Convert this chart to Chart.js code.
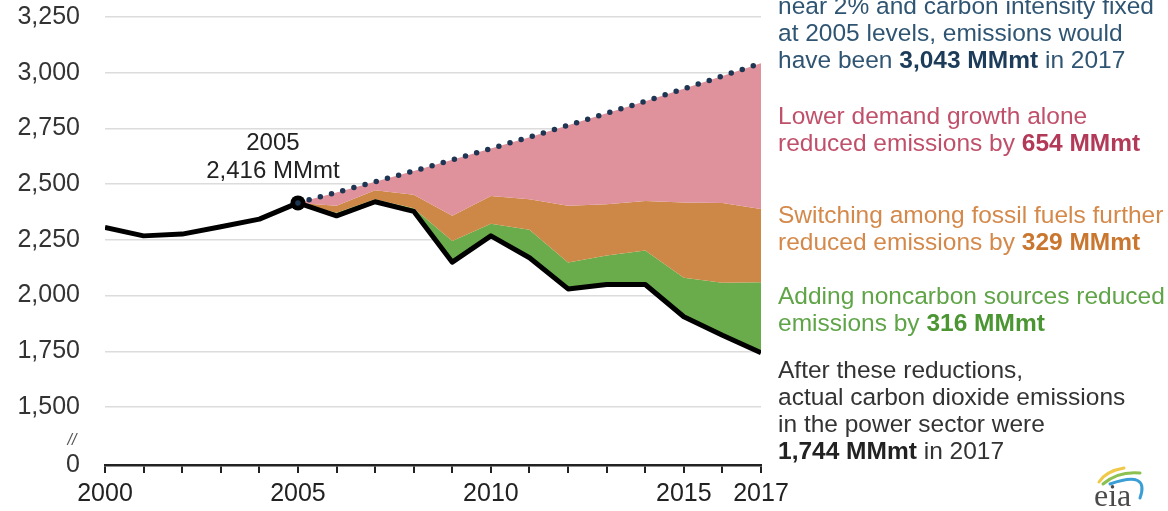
<!DOCTYPE html>
<html>
<head>
<meta charset="utf-8">
<script src="https://cdn.jsdelivr.net/npm/chart.js@4.4.0/dist/chart.umd.min.js"></script>
<style>
  html, body { margin: 0; padding: 0; background: #fff; }
  #wrap { position: relative; width: 1168px; height: 511px; overflow: hidden; font-family: "Liberation Sans", Arial, sans-serif; }
  #chart { position: absolute; left: 0; top: 0; }
  .note { position: absolute; left: 778px; font-size: 24.5px; line-height: 27px; white-space: nowrap; }
</style>
</head>
<body>
<div id="wrap">
  <canvas id="chart" width="1168" height="511"></canvas>
  <div class="note" style="top:-8.5px;color:#2f5573">near 2% and carbon intensity fixed<br>at 2005 levels, emissions would<br>have been <b style="color:#1d3c5a">3,043 MMmt</b> in 2017</div>
  <div class="note" style="top:101.5px;color:#c0506a">Lower demand growth alone<br>reduced emissions by <b style="color:#b23a58">654 MMmt</b></div>
  <div class="note" style="top:200.5px;color:#d4894a">Switching among fossil fuels further<br>reduced emissions by <b style="color:#c9762f">329 MMmt</b></div>
  <div class="note" style="top:281.5px;color:#5fa447">Adding noncarbon sources reduced<br>emissions by <b style="color:#4b9633">316 MMmt</b></div>
  <div class="note" style="top:355.5px;color:#333">After these reductions,<br>actual carbon dioxide emissions<br>in the power sector were<br><b style="color:#222">1,744 MMmt</b> in 2017</div>
</div>
<script>
// years on the x axis
const years = [2000, 2001, 2002, 2003, 2004, 2005, 2006, 2007, 2008, 2009, 2010, 2011, 2012, 2013, 2014, 2015, 2016, 2017];
const xLabelYears = [2000, 2005, 2010, 2015, 2017];

// actual power sector CO2 emissions (MMmt)
const actual = [2306, 2268, 2276, 2309, 2343, 2416, 2358, 2421, 2378, 2150, 2268, 2170, 2030, 2050, 2050, 1905, 1822, 1744];

// counterfactual series, 2005 onwards
const cfYears = [2005, 2006, 2007, 2008, 2009, 2010, 2011, 2012, 2013, 2014, 2015, 2016, 2017];
const noChange = [2416, 2463, 2511, 2559, 2609, 2660, 2711, 2764, 2818, 2872, 2928, 2985, 3043];
const demandOnly = [2416, 2403, 2473, 2452, 2358, 2447, 2432, 2403, 2410, 2424, 2418, 2415, 2389];
const withFuelSwitch = [2416, 2372, 2432, 2392, 2245, 2322, 2295, 2148, 2180, 2202, 2080, 2058, 2060];

// y axis: broken below 1,500, bottom tick shown as 0
const yMin = 1240;
const yMax = 3250;
const yTicks = [1240, 1500, 1750, 2000, 2250, 2500, 2750, 3000, 3250];

const markYear = 2005;
const markValue = 2416;
const markLabel = '2,416 MMmt';

const FONT = '"Liberation Sans", Arial, sans-serif';

function pts(xs, ys) {
  return xs.map((x, i) => ({ x: x, y: ys[i] }));
}

const extras = {
  id: 'extras',
  afterDatasetsDraw(chart) {
    const { ctx, scales: { x, y } } = chart;
    const px = x.getPixelForValue(markYear);
    const py = y.getPixelForValue(markValue);
    ctx.save();
    ctx.fillStyle = '#222';
    ctx.font = '24px ' + FONT;
    ctx.textAlign = 'center';
    ctx.textBaseline = 'middle';
    ctx.fillText(String(markYear), px - 25, py - 60);
    ctx.fillText(markLabel, px - 25, py - 32);

    // axis break mark
    ctx.font = 'italic 16px ' + FONT;
    ctx.fillStyle = '#555';
    ctx.fillText('//', 72, y.bottom - 24);

    // eia logo
    ctx.lineCap = 'round';
    ctx.lineWidth = 3;
    ctx.strokeStyle = '#f0c84a';
    ctx.beginPath(); ctx.moveTo(1099, 482); ctx.quadraticCurveTo(1106, 471, 1124, 468); ctx.stroke();
    ctx.strokeStyle = '#8cc152';
    ctx.beginPath(); ctx.moveTo(1103, 484); ctx.quadraticCurveTo(1118, 471, 1140, 473); ctx.stroke();
    ctx.strokeStyle = '#3b9fd6';
    ctx.beginPath(); ctx.moveTo(1110, 484); ctx.quadraticCurveTo(1150, 470, 1140, 498); ctx.stroke();
    ctx.fillStyle = '#4a4a4a';
    ctx.font = '32px "Liberation Serif", "DejaVu Serif", serif';
    ctx.textAlign = 'left';
    ctx.textBaseline = 'alphabetic';
    ctx.fillText('eia', 1094, 506);
    ctx.restore();
  }
};

const ctx = document.getElementById('chart').getContext('2d');
const myChart = new Chart(ctx, {
  type: 'line',
  data: {
    datasets: [
      {
        data: pts(cfYears, noChange),
        borderColor: '#1e3654',
        borderWidth: 5.5,
        borderDash: [0, 11.6],
        borderCapStyle: 'round',
        pointRadius: 0,
        fill: 1,
        backgroundColor: '#df919c'
      },
      {
        data: pts(cfYears, demandOnly),
        borderWidth: 0,
        borderColor: 'rgba(0,0,0,0)',
        pointRadius: 0,
        fill: 2,
        backgroundColor: '#cd8847'
      },
      {
        data: pts(cfYears, withFuelSwitch),
        borderWidth: 0,
        borderColor: 'rgba(0,0,0,0)',
        pointRadius: 0,
        fill: 3,
        backgroundColor: '#6aab4b'
      },
      {
        data: pts(years, actual),
        borderColor: '#000',
        borderWidth: 5,
        borderJoinStyle: 'round',
        pointRadius: c => (c.raw && c.raw.x === markYear ? 7.5 : 0),
        pointBackgroundColor: '#000',
        pointBorderWidth: 0,
        fill: false
      }
    ]
  },
  options: {
    responsive: false,
    animation: false,
    layout: { padding: { top: 17, right: 407, bottom: 0, left: 0 } },
    plugins: {
      legend: { display: false },
      tooltip: { enabled: false },
      filler: { drawTime: 'beforeDatasetsDraw' }
    },
    scales: {
      x: {
        type: 'linear',
        min: 2000,
        max: 2017,
        afterBuildTicks: s => { s.ticks = years.map(v => ({ value: v })); },
        afterFit: s => { s.height = 46; },
        grid: { drawOnChartArea: false, drawTicks: true, tickLength: 8, color: '#222', lineWidth: 2 },
        border: { color: '#222', width: 2.5 },
        ticks: {
          autoSkip: false,
          maxRotation: 0,
          padding: 6,
          color: '#222',
          font: { size: 25, family: FONT },
          callback: v => (xLabelYears.includes(v) ? String(v) : '')
        }
      },
      y: {
        min: yMin,
        max: yMax,
        afterBuildTicks: s => { s.ticks = yTicks.map(v => ({ value: v })); },
        afterFit: s => { s.width = 105; },
        grid: {
          drawTicks: true,
          tickLength: 25,
          tickColor: 'rgba(0,0,0,0)',
          lineWidth: 1.5,
          color: c => (c.tick && c.tick.value === yMin ? 'rgba(0,0,0,0)' : '#dcdcdc')
        },
        border: { display: false },
        ticks: {
          padding: 0,
          color: '#333',
          font: { size: 25, family: FONT },
          callback: v => (v === yMin ? '0' : v.toLocaleString('en-US'))
        }
      }
    }
  },
  plugins: [extras]
});
</script>
</body>
</html>
